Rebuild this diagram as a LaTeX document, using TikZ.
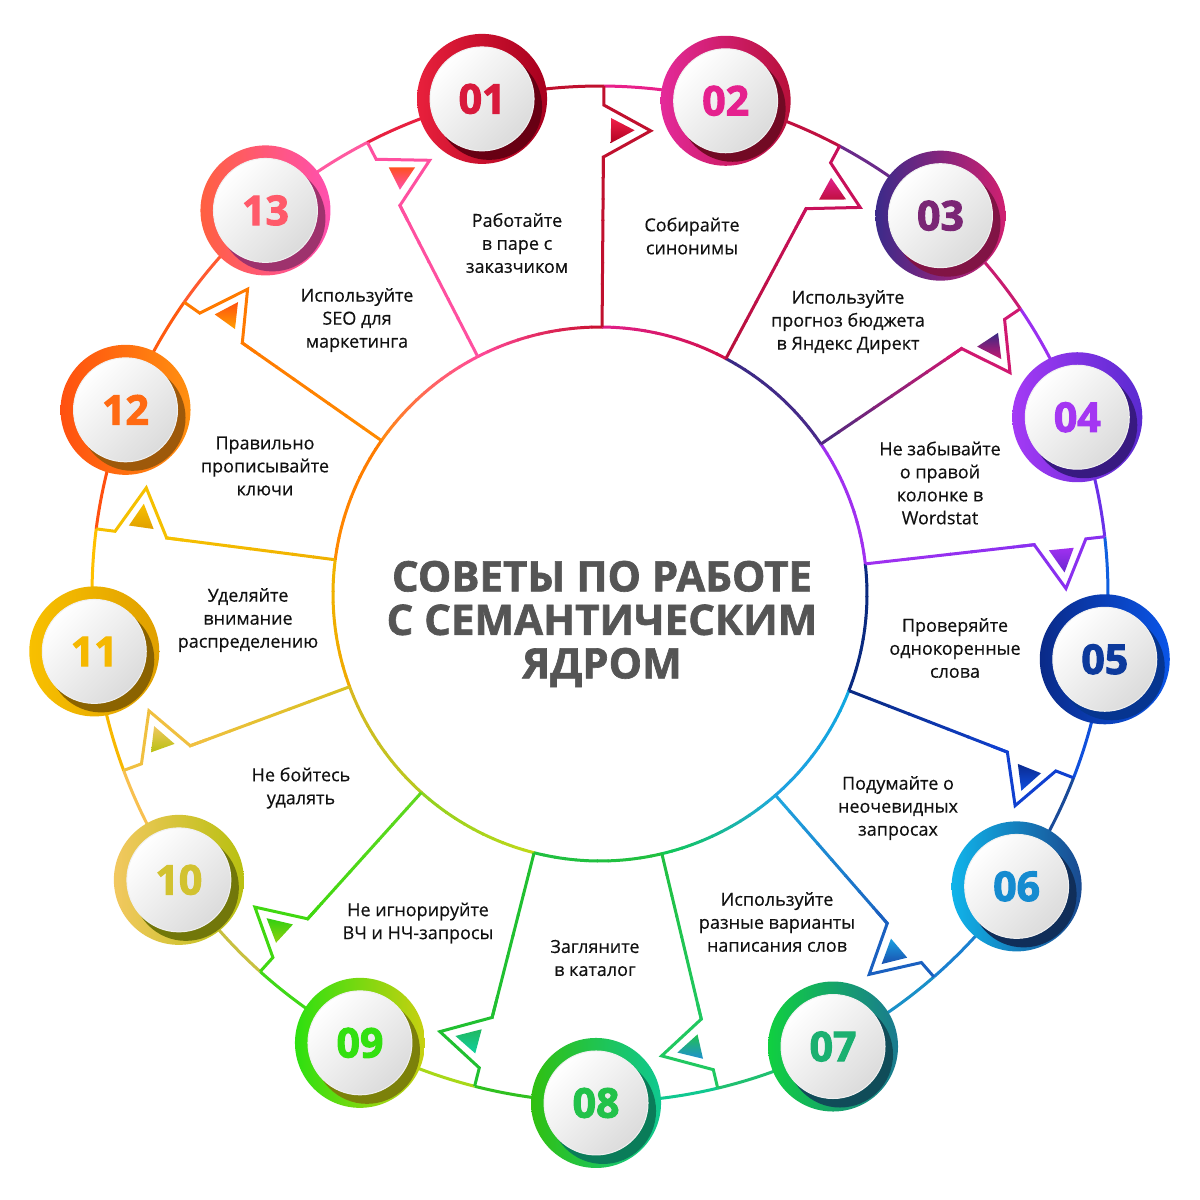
\documentclass[tikz,border=0pt]{standalone}
\usepackage{fontspec}
\setmainfont{Open Sans}
\newfontfamily\titlefont{Open Sans}
\newfontfamily\numfont{Open Sans}
\usetikzlibrary{calc}
% circle ring colours (left/right) and number colours
\definecolor{cL1}{HTML}{E8203C}\definecolor{cR1}{HTML}{A8001E}\definecolor{cN1}{HTML}{D81A3C}
\definecolor{cL2}{HTML}{E42A9A}\definecolor{cR2}{HTML}{B8103A}\definecolor{cN2}{HTML}{E5218E}
\definecolor{cL3}{HTML}{3B2A8A}\definecolor{cR3}{HTML}{D02070}\definecolor{cN3}{HTML}{7A2675}
\definecolor{cL4}{HTML}{A43AF5}\definecolor{cR4}{HTML}{5A2AD0}\definecolor{cN4}{HTML}{A436F2}
\definecolor{cL5}{HTML}{0A2A88}\definecolor{cR5}{HTML}{0A55E8}\definecolor{cN5}{HTML}{0D3A9C}
\definecolor{cL6}{HTML}{10B4EA}\definecolor{cR6}{HTML}{1A4A90}\definecolor{cN6}{HTML}{158BD0}
\definecolor{cL7}{HTML}{10D040}\definecolor{cR7}{HTML}{1A7A90}\definecolor{cN7}{HTML}{1AB070}
\definecolor{cL8}{HTML}{30C010}\definecolor{cR8}{HTML}{10C890}\definecolor{cN8}{HTML}{22C24A}
\definecolor{cL9}{HTML}{2DE010}\definecolor{cR9}{HTML}{C8D010}\definecolor{cN9}{HTML}{33E010}
\definecolor{cL10}{HTML}{F2C860}\definecolor{cR10}{HTML}{B8C010}\definecolor{cN10}{HTML}{D2C230}
\definecolor{cL11}{HTML}{F8C000}\definecolor{cR11}{HTML}{E0A000}\definecolor{cN11}{HTML}{F5B800}
\definecolor{cL12}{HTML}{FF5010}\definecolor{cR12}{HTML}{FF9010}\definecolor{cN12}{HTML}{FF6A12}
\definecolor{cL13}{HTML}{FF6040}\definecolor{cR13}{HTML}{FF50B0}\definecolor{cN13}{HTML}{FF5A6A}
% outer ring pieces
\definecolor{P1p}{HTML}{C0102E}\definecolor{P2m}{HTML}{E8208A}
\definecolor{P2p}{HTML}{C01040}\definecolor{P3m}{HTML}{6A2A8A}
\definecolor{P3p}{HTML}{C81C70}\definecolor{P4m}{HTML}{9A30F0}
\definecolor{P4p}{HTML}{6A30E8}\definecolor{P5m}{HTML}{1060E0}
\definecolor{P5p}{HTML}{1050DC}\definecolor{P6m}{HTML}{1A4A98}
\definecolor{P6p}{HTML}{1A80D0}\definecolor{P7m}{HTML}{1A90C8}
\definecolor{P7p}{HTML}{20C070}\definecolor{P8m}{HTML}{10C890}
\definecolor{P8p}{HTML}{30C020}\definecolor{P9m}{HTML}{A8D818}
\definecolor{P9p}{HTML}{40D818}\definecolor{P10m}{HTML}{C8C040}
\definecolor{P10p}{HTML}{F8C050}\definecolor{P11m}{HTML}{F8B800}
\definecolor{P11p}{HTML}{FFC000}\definecolor{P12m}{HTML}{FF5010}
\definecolor{P12p}{HTML}{FF5A10}\definecolor{P13m}{HTML}{FF5A30}
\definecolor{P13p}{HTML}{FF5AA0}\definecolor{P1m}{HTML}{E82040}
% central circle segments (start/end)
\definecolor{S1a}{HTML}{FF4A9A}\definecolor{S1b}{HTML}{C8102E}
\definecolor{S2a}{HTML}{E0208A}\definecolor{S2b}{HTML}{D0104A}
\definecolor{S3a}{HTML}{3A2A85}\definecolor{S3b}{HTML}{4A2A8A}
\definecolor{S4a}{HTML}{A030F0}\definecolor{S4b}{HTML}{A030F0}
\definecolor{S5a}{HTML}{0A2A80}\definecolor{S5b}{HTML}{0A2A80}
\definecolor{S6a}{HTML}{10A8E0}\definecolor{S6b}{HTML}{20A0E0}
\definecolor{S7a}{HTML}{20A8E0}\definecolor{S7b}{HTML}{10C850}
\definecolor{S8a}{HTML}{20C040}\definecolor{S8b}{HTML}{20C040}
\definecolor{S9a}{HTML}{C0D818}\definecolor{S9b}{HTML}{90D020}
\definecolor{S10a}{HTML}{B8C820}\definecolor{S10b}{HTML}{D8B820}
\definecolor{S11a}{HTML}{F0A800}\definecolor{S11b}{HTML}{F0B400}
\definecolor{S12a}{HTML}{FF8A00}\definecolor{S12b}{HTML}{FF7A00}
\definecolor{S13a}{HTML}{FF8A10}\definecolor{S13b}{HTML}{FF4A9A}
% dividers (inner/flag) and small triangles (base/tip)
\definecolor{D1a}{HTML}{C0102E}\definecolor{D1b}{HTML}{C0102E}\definecolor{T1a}{HTML}{F0204A}\definecolor{T1b}{HTML}{B00020}
\definecolor{D2a}{HTML}{B8103A}\definecolor{D2b}{HTML}{C8105A}\definecolor{T2a}{HTML}{E0208A}\definecolor{T2b}{HTML}{C01040}
\definecolor{D3a}{HTML}{4A2A80}\definecolor{D3b}{HTML}{D01870}\definecolor{T3a}{HTML}{3A2A85}\definecolor{T3b}{HTML}{C81870}
\definecolor{D4a}{HTML}{A030F0}\definecolor{D4b}{HTML}{8A30F0}\definecolor{T4a}{HTML}{A030F0}\definecolor{T4b}{HTML}{6A28D0}
\definecolor{D5a}{HTML}{0A2A80}\definecolor{D5b}{HTML}{1040D0}\definecolor{T5a}{HTML}{0A2A90}\definecolor{T5b}{HTML}{1050E0}
\definecolor{D6a}{HTML}{20A8E0}\definecolor{D6b}{HTML}{1A60C0}\definecolor{T6a}{HTML}{1AA0E0}\definecolor{T6b}{HTML}{1A50B0}
\definecolor{D7a}{HTML}{20C040}\definecolor{D7b}{HTML}{20C860}\definecolor{T7a}{HTML}{20C050}\definecolor{T7b}{HTML}{2090D0}
\definecolor{D8a}{HTML}{20C030}\definecolor{D8b}{HTML}{20C030}\definecolor{T8a}{HTML}{20B860}\definecolor{T8b}{HTML}{10D0A0}
\definecolor{D9a}{HTML}{60D820}\definecolor{D9b}{HTML}{40D810}\definecolor{T9a}{HTML}{30D010}\definecolor{T9b}{HTML}{90D010}
\definecolor{D10a}{HTML}{D8C020}\definecolor{D10b}{HTML}{F0C040}\definecolor{T10a}{HTML}{F0C860}\definecolor{T10b}{HTML}{B8C010}
\definecolor{D11a}{HTML}{F0B000}\definecolor{D11b}{HTML}{F5C000}\definecolor{T11a}{HTML}{F8C000}\definecolor{T11b}{HTML}{E0A000}
\definecolor{D12a}{HTML}{FF8A00}\definecolor{D12b}{HTML}{FF7A00}\definecolor{T12a}{HTML}{FF5010}\definecolor{T12b}{HTML}{FFA000}
\definecolor{D13a}{HTML}{FF50A0}\definecolor{D13b}{HTML}{FF50A0}\definecolor{T13a}{HTML}{FF5020}\definecolor{T13b}{HTML}{FF50B0}
\definecolor{txt}{HTML}{111111}
\definecolor{ttl}{HTML}{555555}
\tikzset{
  ringline/.style={line width=3pt},
  tiptext/.style={align=center, font=\addfontfeature{FakeBold=0.4}\fontsize{18}{23}\selectfont, text=txt},
}
\begin{document}
\begin{tikzpicture}[x=1pt,y=1pt]
\path[use as bounding box, fill=white] (0,0) rectangle (1200,-1200);
\coordinate (C) at (600,-594);
% outer ring
\foreach \k/\cp/\cm in {1/P1p/P2m,2/P2p/P3m,3/P3p/P4m,4/P4p/P5m,5/P5p/P6m,6/P6p/P7m,7/P7p/P8m,8/P8p/P9m,9/P9p/P10m,10/P10p/P11m,11/P11p/P12m,12/P12p/P13m,13/P13p/P1m}{
  \pgfmathsetmacro\aa{103.4-27.6923*(\k-1)}
  \pgfmathsetmacro\dd{\aa-13.8462}
  \pgfmathsetmacro\bb{\aa-27.6923}
  \draw[ringline, color=\cp] ($(C)+(\aa:508)$) arc[start angle=\aa, end angle=\dd, radius=508];
  \draw[ringline, color=\cm] ($(C)+(\dd:508)$) arc[start angle=\dd, end angle=\bb, radius=508];
}
% central circle
\node[circle, minimum size=534pt, inner sep=0pt, fill=white] (core) at (C) {};
\foreach \k/\ca/\cb in {1/S1a/S1b,2/S2a/S2b,3/S3a/S3b,4/S4a/S4b,5/S5a/S5b,6/S6a/S6b,7/S7a/S7b,8/S8a/S8b,9/S9a/S9b,10/S10a/S10b,11/S11a/S11b,12/S12a/S12b,13/S13a/S13b}{
  \foreach \j in {0,...,11}{
    \pgfmathsetmacro\sa{117.2462-27.6923*(\k-1)-2.30769*\j}
    \pgfmathsetmacro\ea{\sa-2.50769}
    \pgfmathtruncatemacro\pc{round(100*(\j+0.5)/12)}
    \draw[ringline, color=\cb!\pc!\ca] ($(C)+(\sa:267)$) arc[start angle=\sa, end angle=\ea, radius=267];
  }
}
% dividers with flags
\foreach \k/\ci/\cf/\ta/\tb in {1/D1a/D1b/T1a/T1b,2/D2a/D2b/T2a/T2b,3/D3a/D3b/T3a/T3b,4/D4a/D4b/T4a/T4b,5/D5a/D5b/T5a/T5b,6/D6a/D6b/T6a/T6b,7/D7a/D7b/T7a/T7b,8/D8a/D8b/T8a/T8b,9/D9a/D9b/T9a/T9b,10/D10a/D10b/T10a/T10b,11/D11a/D11b/T11a/T11b,12/D12a/D12b/T12a/T12b,13/D13a/D13b/T13a/T13b}{
  \pgfmathsetmacro\dd{89.554-27.6923*(\k-1)}
  \begin{scope}[shift={(C)}, rotate=\dd]
    \foreach \j in {0,...,7}{
      \pgfmathsetmacro\ra{267+21.25*\j}
      \pgfmathsetmacro\rb{\ra+22.5}
      \pgfmathtruncatemacro\pc{round(100*(\j+0.5)/8)}
      \draw[ringline, color=\cf!\pc!\ci] (\ra,0) -- (\rb,0);
    }
    \draw[ringline, color=\cf, line join=miter, miter limit=10] (420,0) -- (437,0) -- (463.6,-47.1) -- (489,0) -- (508,0);
    \shade[top color=\ta, bottom color=\tb] (451,-7.2) -- (476,-7.5) -- (464,-31) -- cycle;
  \end{scope}
}
% numbered circles
\foreach \i/\num in {1/01,2/02,3/03,4/04,5/05,6/06,7/07,8/08,9/09,10/10,11/11,12/12,13/13}{
  \pgfmathsetmacro\aa{103.4-27.6923*(\i-1)}
  \node[circle, minimum size=130pt, inner sep=0pt, left color=cL\i, right color=cR\i] (ring\i) at ($(C)+(\aa:509)$) {};
  \begin{scope}
    \clip (ring\i.center) circle (64.5);
    \fill[cR\i!62!black] ($(ring\i.center)+(7,-8)$) circle (53);
  \end{scope}
  \node[circle, minimum size=104pt, inner sep=0pt, top color=white, bottom color=black!14, shading angle=45, draw=black!6, line width=1pt] (disc\i) at (ring\i.center) {};
  \node[font=\numfont\bfseries\addfontfeature{FakeBold=2.5}\fontsize{41}{41}\selectfont, text=cN\i, inner sep=0pt] (num\i) at (ring\i.center) {\num};
}
% tip texts
\node[tiptext] (t1) at (517,-243) {Работайте\\в паре с\\заказчиком};
\node[tiptext] (t2) at (692,-236) {Собирайте\\синонимы};
\node[tiptext] (t3) at (848,-322) {Используйте\\прогноз бюджета\\в Яндекс Директ};
\node[tiptext] (t4) at (940,-483) {Не забывайте\\о правой\\колонке в\\Wordstat};
\node[tiptext] (t5) at (955,-648) {Проверяйте\\однокоренные\\слова};
\node[tiptext] (t6) at (898,-808) {Подумайте о\\неочевидных\\запросах};
\node[tiptext] (t7) at (777,-922) {Используйте\\разные варианты\\написания слов};
\node[tiptext] (t8) at (595,-958) {Загляните\\в каталог};
\node[tiptext] (t9) at (418,-923) {Не игнорируйте\\ВЧ и НЧ-запросы};
\node[tiptext] (t10) at (301,-788) {Не бойтесь\\удалять};
\node[tiptext] (t11) at (248,-620) {Уделяйте\\внимание\\распределению};
\node[tiptext] (t12) at (265,-466) {Правильно\\прописывайте\\ключи};
\node[tiptext] (t13) at (357,-320) {Используйте\\SEO для\\маркетинга};
% title
\node[align=center, text=ttl, font=\titlefont\bfseries\addfontfeature{FakeBold=1.5}\fontsize{42}{43.5}\selectfont] (title) at (602,-624) {СОВЕТЫ ПО РАБОТЕ\\С СЕМАНТИЧЕСКИМ\\ЯДРОМ};
\end{tikzpicture}
\end{document}
